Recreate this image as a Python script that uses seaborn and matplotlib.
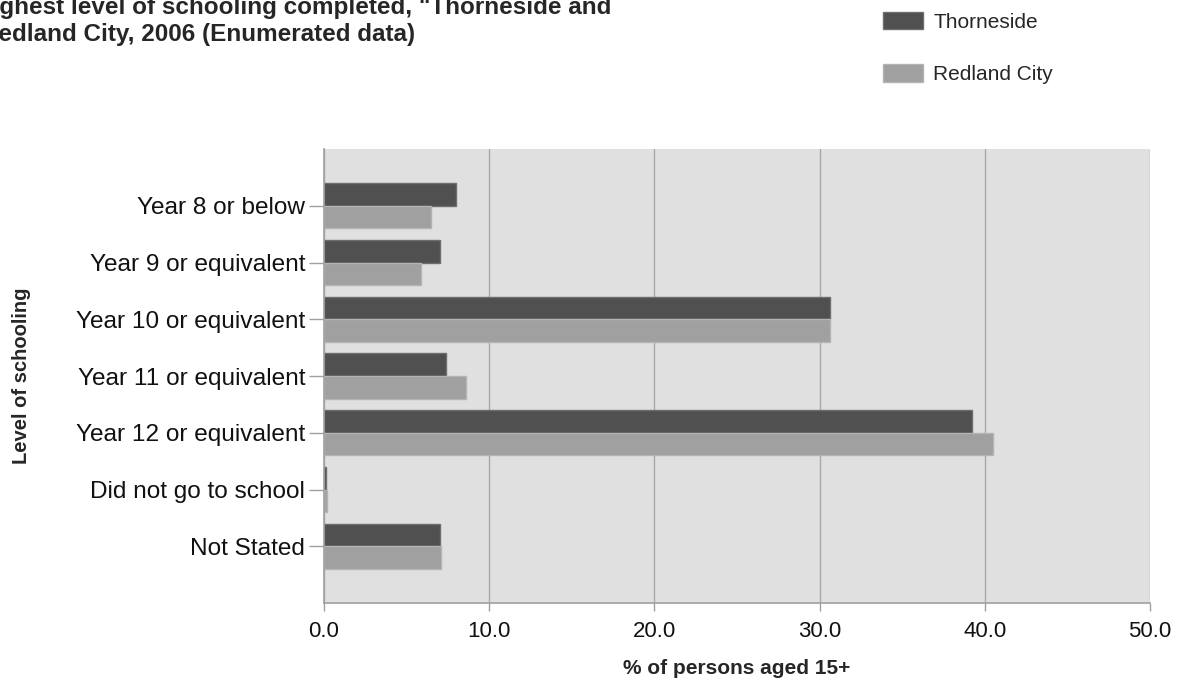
import pandas as pd
import numpy as np
import matplotlib.pyplot as plt
import seaborn as sns

# Data
levels = ['Year 8 or below', 'Year 9 or equivalent', 'Year 10 or equivalent',
          'Year 11 or equivalent', 'Year 12 or equivalent', 'Did not go to school',
          'Not Stated']
thorneside = [8.0, 7.0, 30.6, 7.4, 39.2, 0.1, 7.0]
redland = [6.5, 5.9, 30.6, 8.6, 40.5, 0.2, 7.1]
areas = ['Thorneside', 'Redland City']
xticks = [0, 10, 20, 30, 40, 50]

df = pd.DataFrame({
    'Level': levels * 2,
    'Area': [areas[0]] * len(levels) + [areas[1]] * len(levels),
    'Pct': thorneside + redland,
})

sns.set_style('white')
plt.rcParams['font.family'] = ['Liberation Sans', 'DejaVu Sans']

fig = plt.figure(figsize=(11.84, 6.86), dpi=100)
ax = fig.add_axes([324/1184, 83/686, 826/1184, 454/686])
ax.set_facecolor('#e0e0e0')

sns.barplot(data=df, y='Level', x='Pct', hue='Area', order=levels,
            hue_order=areas, palette=['#505050', '#a0a0a0'],
            orient='h', width=0.8, ax=ax, legend=True)

# bar edges
for bar in ax.patches:
    fc = bar.get_facecolor()
    if fc[0] < 0.5:
        bar.set_edgecolor('#6e6e6e')
    else:
        bar.set_edgecolor('#b4b4b4')
    bar.set_linewidth(1)

ax.set_xlim(0, 50)
ax.set_ylim(len(levels), -1)
ax.set_xticks(xticks)
ax.set_xticklabels([f'{v:.1f}' for v in xticks], fontsize=16)
ax.tick_params(axis='y', left=True, labelsize=17.6, length=11, color='#a0a0a0',
               width=1, pad=2.5, labelcolor='#111111')
ax.tick_params(axis='x', bottom=True, length=6, color='#a0a0a0', width=1, pad=7,
               labelcolor='#111111')
ax.grid(axis='x', color='#a8a8a8', linewidth=1)
ax.set_axisbelow(True)

for s in ['top', 'right']:
    ax.spines[s].set_visible(False)
for s in ['left', 'bottom']:
    ax.spines[s].set_color('#a0a0a0')
    ax.spines[s].set_linewidth(1.2)

ax.set_xlabel('% of persons aged 15+', fontsize=15, fontweight='bold', labelpad=12)
ax.set_ylabel('Level of schooling', fontsize=14.5, fontweight='bold')
ax.yaxis.set_label_coords(-0.355, 0.5)

handles, labels = ax.get_legend_handles_labels()
ax.get_legend().remove()
fig.legend(handles, labels, loc='upper left', bbox_to_anchor=(864/1184, 1.0 + 7/686),
           frameon=False, fontsize=15, handlelength=1.92, handleheight=0.92,
           labelspacing=1.55, handletextpad=0.5)

fig.text(-25/1184, 1 - 14/686, 'Highest level of schooling completed, "Thorneside and',
         fontsize=17.5, fontweight='bold', va='baseline', ha='left')
fig.text(-19/1184, 1 - 41/686, 'Redland City, 2006 (Enumerated data)',
         fontsize=17.5, fontweight='bold', va='baseline', ha='left')

fig.savefig('out.png', dpi=100)
